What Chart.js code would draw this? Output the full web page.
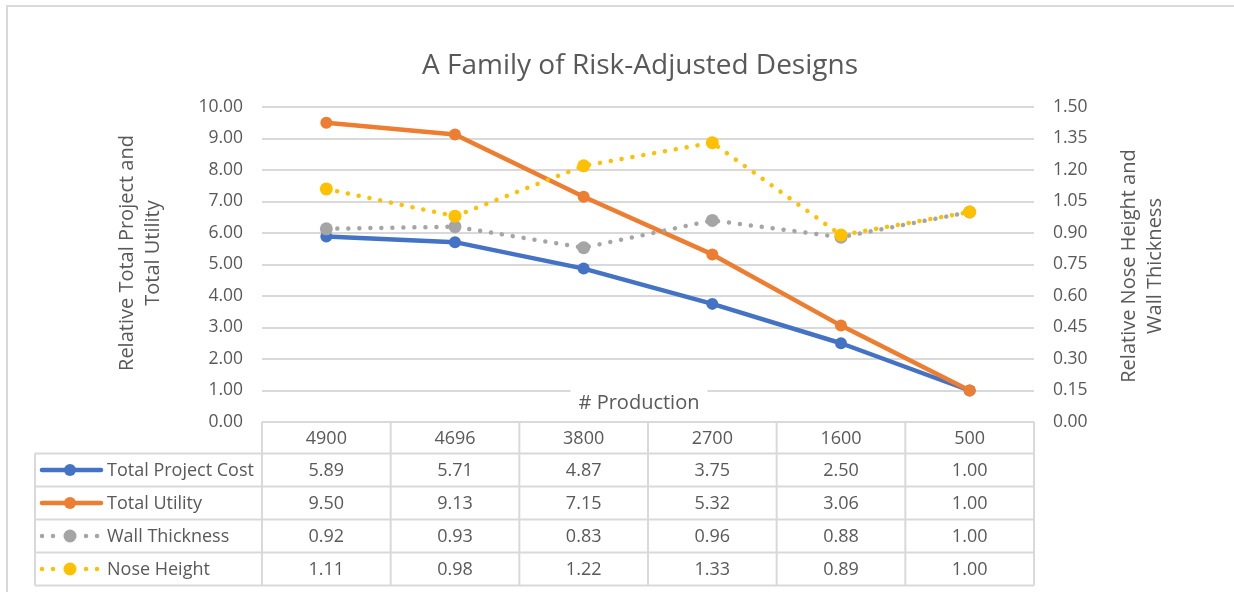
<!DOCTYPE html>
<html>
<head>
<meta charset="utf-8">
<script src="https://cdn.jsdelivr.net/npm/chart.js@4"></script>
<style>
html,body{margin:0;padding:0;background:#fff;}
#wrap{width:1234px;height:592px;position:relative;}
</style>
</head>
<body>
<div id="wrap"><canvas id="c" width="1234" height="592"></canvas></div>
<script>
const categories = ['4900', '4696', '3800', '2700', '1600', '500'];
const totalProjectCost = [5.89, 5.71, 4.87, 3.75, 2.50, 1.00];
const totalUtility = [9.50, 9.13, 7.15, 5.32, 3.06, 1.00];
const wallThickness = [0.92, 0.93, 0.83, 0.96, 0.88, 1.00];
const noseHeight = [1.11, 0.98, 1.22, 1.33, 0.89, 1.00];
const leftTicks = [0, 1, 2, 3, 4, 5, 6, 7, 8, 9, 10];
const rightTicks = [0, 0.15, 0.30, 0.45, 0.60, 0.75, 0.90, 1.05, 1.20, 1.35, 1.50];
const titleText = 'A Family of Risk-Adjusted Designs';
const leftTitle = ['Relative Total Project and', 'Total Utility'];
const rightTitle = ['Relative Nose Height and', 'Wall Thickness'];
const xTitle = '# Production';

const FONT = '"Open Sans", "Noto Sans", sans-serif';
const TEXT = '#595959';
const GRID = '#D9D9D9';
const DOT = [0.01, 11];

const datasets = [
  {label: 'Total Project Cost', data: totalProjectCost, yAxisID: 'y', borderColor: '#4472C4', backgroundColor: '#4472C4', borderWidth: 4.5, pointRadius: 6, order: 4, dash: []},
  {label: 'Total Utility', data: totalUtility, yAxisID: 'y', borderColor: '#ED7D31', backgroundColor: '#ED7D31', borderWidth: 4.5, pointRadius: 6, order: 3, dash: []},
  {label: 'Wall Thickness', data: wallThickness, yAxisID: 'y1', borderColor: '#A5A5A5', backgroundColor: '#A5A5A5', borderWidth: 4.5, pointRadius: 6.5, order: 2, borderDash: DOT, dash: DOT},
  {label: 'Nose Height', data: noseHeight, yAxisID: 'y1', borderColor: '#FFC000', backgroundColor: '#FFC000', borderWidth: 4.5, pointRadius: 6.5, order: 1, borderDash: DOT, dash: DOT}
].map(d => Object.assign({
  borderCapStyle: 'round', borderJoinStyle: 'round', pointBorderWidth: 0,
  pointHoverRadius: 6, tension: 0, fill: false
}, d));

const decor = {
  id: 'decor',
  beforeDraw(chart) {
    const ctx = chart.ctx;
    ctx.save();
    ctx.fillStyle = '#fff';
    ctx.fillRect(0, 0, chart.width, chart.height);
    ctx.strokeStyle = GRID;
    ctx.lineWidth = 2;
    ctx.beginPath();
    ctx.moveTo(7, 600); ctx.lineTo(7, 6); ctx.lineTo(1240, 6);
    ctx.stroke();
    ctx.restore();
  },
  beforeDatasetsDraw(chart) {
    const ctx = chart.ctx;
    ctx.save();
    ctx.font = '20px ' + FONT;
    const w = ctx.measureText(xTitle).width;
    ctx.fillStyle = '#fff';
    ctx.fillRect(639 - w / 2 - 8, 384, w + 16, 34);
    ctx.fillStyle = TEXT;
    ctx.textAlign = 'center';
    ctx.textBaseline = 'middle';
    ctx.fillText(xTitle, 639, 403);
    ctx.restore();
  },
  afterDraw(chart) {
    const ctx = chart.ctx;
    const xs = chart.scales.x;
    const area = chart.chartArea;
    const step = xs.getPixelForValue(1) - xs.getPixelForValue(0);
    const bounds = [];
    for (let i = 0; i <= categories.length; i++) bounds.push(xs.getPixelForValue(0) - step / 2 + i * step);
    const top = area.bottom;
    const rows = [top, 453.5, 486.5, 519.5, 552.5, 585.5];
    const legendLeft = 35;
    ctx.save();
    ctx.strokeStyle = GRID;
    ctx.lineWidth = 2;
    ctx.beginPath();
    ctx.moveTo(bounds[0], rows[0]); ctx.lineTo(bounds[bounds.length - 1], rows[0]);
    for (let r = 1; r < rows.length; r++) { ctx.moveTo(legendLeft, rows[r]); ctx.lineTo(bounds[bounds.length - 1], rows[r]); }
    bounds.forEach(b => { ctx.moveTo(b, rows[0]); ctx.lineTo(b, rows[rows.length - 1]); });
    ctx.moveTo(legendLeft, rows[1]); ctx.lineTo(legendLeft, rows[rows.length - 1]);
    ctx.stroke();

    ctx.fillStyle = TEXT;
    ctx.font = '18px ' + FONT;
    ctx.textBaseline = 'middle';
    ctx.textAlign = 'center';
    categories.forEach((c, i) => ctx.fillText(c, xs.getPixelForValue(i), (rows[0] + rows[1]) / 2 + 1));
    datasets.forEach((d, r) => {
      const cy = (rows[r + 1] + rows[r + 2]) / 2 + 1;
      ctx.fillStyle = TEXT;
      ctx.textAlign = 'center';
      d.data.forEach((v, i) => ctx.fillText(v.toFixed(2), xs.getPixelForValue(i), cy));
      ctx.textAlign = 'left';
      ctx.fillText(d.label, 107, cy);
      // legend key
      const ly = cy - 1;
      ctx.strokeStyle = d.borderColor;
      ctx.lineCap = 'round';
      ctx.lineWidth = 4.5;
      ctx.setLineDash(d.dash);
      ctx.beginPath();
      if (d.dash.length) {
        ctx.moveTo(42, ly); ctx.lineTo(54, ly);
        ctx.moveTo(86, ly); ctx.lineTo(98, ly);
      } else {
        ctx.moveTo(42, ly); ctx.lineTo(101, ly);
      }
      ctx.stroke();
      ctx.setLineDash([]);
      ctx.fillStyle = d.borderColor;
      ctx.beginPath();
      ctx.arc(70, ly, d.pointRadius, 0, Math.PI * 2);
      ctx.fill();
    });

    // axis titles
    ctx.fillStyle = TEXT;
    ctx.font = '20px ' + FONT;
    ctx.textAlign = 'center';
    ctx.textBaseline = 'middle';
    const drawRot = (lines, x0, cy) => {
      lines.forEach((t, i) => {
        ctx.save();
        ctx.translate(x0 + i * 26, cy);
        ctx.rotate(-Math.PI / 2);
        ctx.fillText(t, 0, 0);
        ctx.restore();
      });
    };
    drawRot(leftTitle, 127, 253);
    drawRot(rightTitle, 1129, 266);
    ctx.restore();
  }
};

new Chart(document.getElementById('c'), {
  type: 'line',
  data: {labels: categories, datasets: datasets},
  plugins: [decor],
  options: {
    responsive: false,
    animation: false,
    events: [],
    layout: {padding: {left: 46, right: 0, top: 0, bottom: 170}},
    plugins: {
      legend: {display: false},
      tooltip: {enabled: false},
      title: {
        display: true, text: titleText, color: TEXT,
        font: {family: FONT, size: 28, weight: 'normal', lineHeight: 1.2},
        padding: {top: 49, bottom: 24.4}
      }
    },
    scales: {
      x: {
        offset: true,
        grid: {display: false, drawTicks: false},
        border: {display: false},
        ticks: {display: false},
        afterFit(s) { s.height = 0; }
      },
      y: {
        position: 'left', min: 0, max: 10,
        afterBuildTicks(s) { s.ticks = leftTicks.map(v => ({value: v})); },
        afterFit(s) { s.width = 216; },
        grid: {color: GRID, lineWidth: 2, drawTicks: false},
        border: {display: false},
        ticks: {color: TEXT, padding: 19, font: {family: FONT, size: 17.5}, callback: v => Number(v).toFixed(2)}
      },
      y1: {
        position: 'right', min: 0, max: 1.5,
        afterBuildTicks(s) { s.ticks = rightTicks.map(v => ({value: v})); },
        afterFit(s) { s.width = 200; },
        grid: {display: false, drawTicks: false},
        border: {display: false},
        ticks: {color: TEXT, padding: 19, font: {family: FONT, size: 17.5}, callback: v => Number(v).toFixed(2)}
      }
    }
  }
});
</script>
</body>
</html>
